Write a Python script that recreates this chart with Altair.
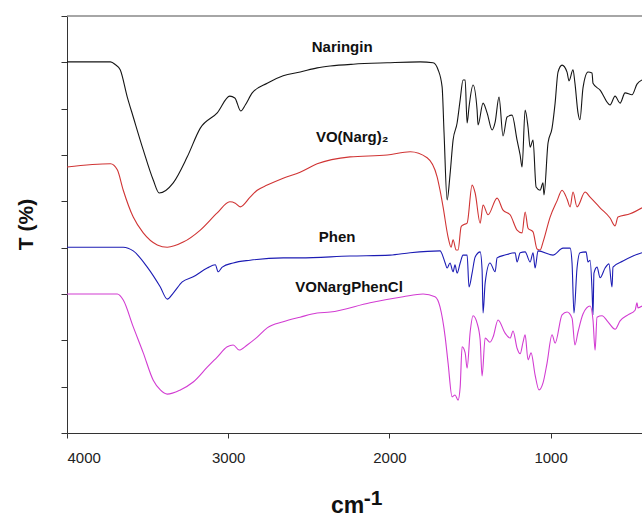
import altair as alt
import pandas as pd

# ---- data (wavenumber cm-1, transmittance in stacked units) ----
nar_wn = [4000, 3730, 3700, 3670, 3626, 3589, 3527, 3465, 3428, 3341, 3254, 3173, 3068, 2990, 2959, 2922,
          2894, 2851, 2758, 2659, 2553, 2448, 2367, 2225, 2014, 1809, 1729, 1698, 1673, 1661, 1642,
          1624, 1605, 1580, 1561, 1543, 1530, 1518, 1506, 1481, 1456, 1450, 1419, 1394, 1363, 1344,
          1320, 1295, 1270, 1239, 1208, 1189, 1177, 1158, 1140, 1127, 1109, 1090, 1065, 1047, 1041,
          1016, 991, 972, 954, 929, 898, 886, 861, 849, 830, 818, 799, 768, 743, 737, 693, 631, 600,
          569, 538, 495, 464, 433]
nar_t = [8.01, 8.01, 7.95, 7.84, 7.25, 6.82, 6.11, 5.46, 5.18, 5.40, 5.96, 6.58, 6.91, 7.27, 7.23, 6.95,
         7.08, 7.34, 7.55, 7.71, 7.79, 7.88, 7.92, 7.96, 7.99, 8.01, 7.99, 7.84, 7.47, 6.48, 5.03,
         5.57, 6.32, 6.69, 7.19, 7.62, 7.62, 6.69, 7.04, 7.51, 6.97, 6.65, 7.12, 6.91, 6.54, 6.71,
         7.25, 6.41, 6.82, 6.86, 6.32, 6.00, 5.74, 6.97, 6.60, 6.17, 6.32, 5.31, 5.24, 5.40, 5.14,
         6.26, 6.58, 7.12, 7.79, 7.94, 7.79, 7.60, 7.84, 7.55, 6.91, 6.76, 7.45, 7.79, 7.77, 7.55,
         7.40, 7.08, 7.27, 7.12, 7.34, 7.30, 7.53, 7.62]

vo_wn = [4000, 3730, 3688, 3651, 3589, 3527, 3440, 3378, 3279, 3173, 3068, 2990, 2956, 2926, 2864,
         2820, 2758, 2659, 2554, 2448, 2244, 2014, 1871, 1766, 1704, 1686, 1667, 1636, 1617, 1605,
         1586, 1574, 1555, 1543, 1518, 1487, 1468, 1437, 1419, 1388, 1332, 1295, 1251, 1208, 1177,
         1158, 1140, 1109, 1084, 1065, 1047, 1003, 960, 929, 898, 879, 861, 836, 786, 755, 693, 631,
         600, 582, 507, 433]
vo_t = [5.74, 5.81, 5.68, 5.24, 4.66, 4.32, 4.06, 4.01, 4.12, 4.38, 4.75, 4.99, 4.96, 4.88, 5.09,
        5.24, 5.35, 5.50, 5.63, 5.81, 5.96, 6.00, 6.07, 5.94, 5.53, 5.24, 4.88, 4.23, 4.01, 4.17,
        3.95, 3.95, 4.45, 4.49, 4.53, 5.35, 5.18, 4.53, 4.92, 4.71, 5.07, 4.81, 4.71, 4.38, 4.32,
        4.77, 4.42, 4.34, 3.97, 3.95, 4.12, 4.66, 5.01, 5.24, 5.05, 4.88, 5.20, 4.88, 5.20, 5.09,
        4.86, 4.64, 4.47, 4.66, 4.73, 4.86]

phen_wn = [4000, 3651, 3589, 3502, 3421, 3378, 3341, 3285, 3217, 3130, 3080, 3062, 3037, 2969, 2864,
           2659, 2554, 2244, 1996, 1871, 1686, 1654, 1642, 1624, 1605, 1593, 1580, 1561, 1543, 1518,
           1506, 1487, 1468, 1437, 1425, 1419, 1406, 1376, 1344, 1332, 1283, 1220, 1208, 1189, 1158,
           1127, 1109, 1096, 1078, 985, 923, 879, 867, 855, 836, 818, 780, 768, 755, 743, 737, 731,
           712, 693, 662, 638, 619, 613, 551, 489, 433]
phen_t = [4.01, 4.01, 3.93, 3.58, 3.15, 2.89, 3.02, 3.26, 3.37, 3.56, 3.63, 3.48, 3.58, 3.67, 3.73,
          3.78, 3.78, 3.82, 3.84, 3.89, 3.93, 3.67, 3.56, 3.67, 3.48, 3.63, 3.45, 3.67, 3.84, 3.84,
          3.15, 3.45, 3.80, 3.91, 3.52, 2.59, 3.24, 3.67, 3.48, 3.78, 3.84, 3.89, 3.69, 3.89, 3.91,
          3.69, 3.89, 3.56, 3.93, 3.84, 3.99, 3.99, 3.67, 2.59, 3.56, 3.89, 3.91, 3.69, 3.73, 3.09,
          2.55, 3.45, 3.58, 3.35, 3.56, 3.65, 3.15, 3.58, 3.71, 3.82, 3.89]

vnp_wn = [4000, 3688, 3651, 3589, 3527, 3465, 3421, 3378, 3297, 3217, 3130, 3068, 3006, 2969, 2932,
          2882, 2820, 2758, 2659, 2554, 2448, 2367, 2120, 1915, 1791, 1717, 1686, 1654, 1636, 1611,
          1593, 1574, 1561, 1549, 1530, 1518, 1499, 1481, 1456, 1437, 1425, 1406, 1376, 1357, 1326,
          1283, 1251, 1233, 1208, 1189, 1171, 1158, 1140, 1121, 1096, 1072, 1047, 1022, 991, 972,
          929, 898, 867, 849, 830, 799, 755, 737, 724, 712, 681, 644, 600, 569, 520, 476, 464, 458,
          433]
vnp_t = [3.00, 3.00, 2.87, 2.29, 1.73, 1.14, 0.93, 0.84, 0.93, 1.10, 1.42, 1.64, 1.86, 1.90, 1.79,
         1.90, 2.07, 2.27, 2.40, 2.50, 2.59, 2.61, 2.81, 2.94, 3.00, 2.94, 2.72, 2.07, 1.51, 0.78,
         0.82, 0.71, 0.99, 1.86, 1.73, 1.40, 2.18, 2.53, 2.37, 2.01, 1.23, 2.05, 1.96, 2.07, 2.44,
         2.16, 2.05, 2.20, 1.83, 1.71, 1.96, 2.12, 1.58, 1.73, 1.25, 0.93, 1.08, 1.51, 2.12, 1.94,
         2.55, 2.61, 2.48, 1.90, 2.18, 2.57, 2.74, 2.44, 1.79, 2.50, 2.53, 2.40, 2.24, 2.42, 2.55,
         2.65, 2.81, 2.70, 2.74]

series_names = ["Naringin", "VO(Narg)\u2082", "Phen", "VONargPhenCl"]
series_colors = ["#151515", "#d03434", "#1c1cb4", "#d23cd2"]
label_wn = [2293, 2231, 2324, 2250]
label_t = [8.33, 6.39, 4.23, 3.15]

x_ticks = [4000, 3000, 2000, 1000]
y_ticks = [0, 1, 2, 3, 4, 5, 6, 7, 8, 9]

# ---- tables ----
rows = []
for name, wn, tt in zip(series_names, [nar_wn, vo_wn, phen_wn, vnp_wn], [nar_t, vo_t, phen_t, vnp_t]):
    for i, (w, v) in enumerate(zip(wn, tt)):
        rows.append({"series": name, "wn": w, "T": v, "order": i})
df = pd.DataFrame(rows)
labels_df = pd.DataFrame({"series": series_names, "wn": label_wn, "T": label_t})
sup_df = pd.DataFrame({"text": ["-1"], "wn": [2101], "T": [-1.55]})

FONT = "Liberation Sans"

xscale = alt.Scale(domain=[433, 4000], reverse=True, nice=False, zero=False)
yscale = alt.Scale(domain=[0, 9], nice=False, zero=False)

x_axis = alt.Axis(values=x_ticks, format="d", title="cm", grid=False, tickSize=5, tickColor="#333",
                  domainColor="#333", labelFont=FONT, labelFontSize=15, labelColor="#222",
                  labelPadding=12, titleFont=FONT, titleFontSize=23, titleFontWeight="bold",
                  titleColor="#111", titleX=280, titleY=79, titleBaseline="alphabetic")
y_axis = alt.Axis(values=y_ticks, labels=False, title="T (%)", grid=False, tickSize=6,
                  tickColor="#333", domainColor="#333", titleFont=FONT, titleFontSize=21,
                  titleFontWeight="bold", titleColor="#111", titleX=-41, titleY=208,
                  titleBaseline="middle", titleAlign="center")

color = alt.Color("series:N", scale=alt.Scale(domain=series_names, range=series_colors), legend=None)

lines = alt.Chart(df).mark_line(strokeWidth=1.1, clip=True, interpolate="monotone").encode(
    x=alt.X("wn:Q", scale=xscale, axis=x_axis),
    y=alt.Y("T:Q", scale=yscale, axis=y_axis),
    color=color,
    order="order:Q",
    detail="series:N",
)

top_rule = alt.Chart(pd.DataFrame({"T": [9]})).mark_rule(color="#888", strokeWidth=1.5).encode(
    y=alt.Y("T:Q", scale=yscale)
)

labels = alt.Chart(labels_df).mark_text(font=FONT, fontSize=15, fontWeight="bold", color="#111",
                                         baseline="middle", align="center").encode(
    x=alt.X("wn:Q", scale=xscale), y=alt.Y("T:Q", scale=yscale), text="series:N"
)

sup = alt.Chart(sup_df).mark_text(font=FONT, fontSize=21, fontWeight="bold", color="#111",
                                  baseline="alphabetic", align="center").encode(
    x=alt.X("wn:Q", scale=xscale), y=alt.Y("T:Q", scale=yscale), text="text:N"
)

chart = alt.layer(top_rule, lines, labels, sup).properties(
    width=575, height=417,
    autosize=alt.AutoSizeParams(type="none"),
    padding={"left": 67, "top": 16, "right": 0, "bottom": 85},
    background="white",
).configure_view(stroke=None)

chart.save("out.html", embed_options={"renderer": "svg", "actions": False})
